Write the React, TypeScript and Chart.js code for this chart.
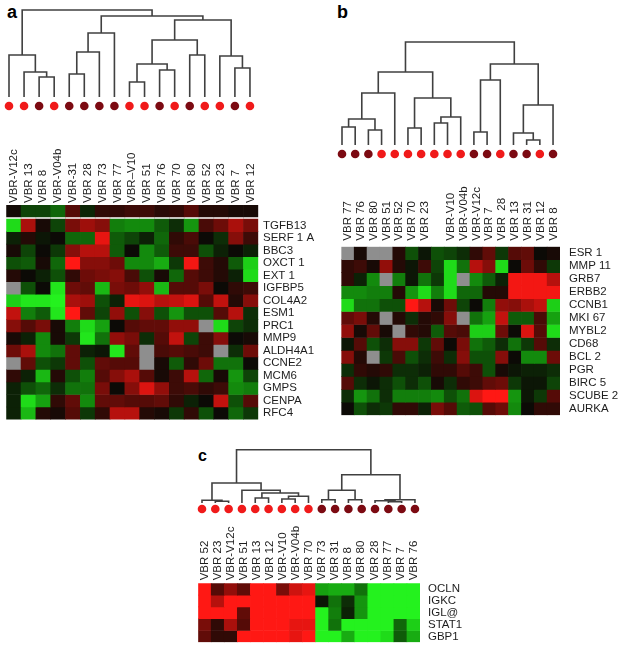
import React, { useEffect, useRef } from 'react';
import { Chart, registerables } from 'chart.js';

Chart.register(...registerables);

const FONT = "Arial, 'Liberation Sans', Helvetica, sans-serif";
const TEXT_COLOR = '#1e1e1e';
const LINE_COLOR = '#404040';
const RED_DOT = '#f01a1a';
const DARK_DOT = '#7c0a12';

// ---------- samples / groups ----------
const redGroup = ['V12c', '13', 'V04b', 'V10', '51', '70', '52', '23', '12'];

// ---------- panel a ----------
const samplesA = ['V12c', '13', '8', 'V04b', '31', '28', '73', '77', 'V10', '51', '76', '70', '80', '52', '23', '7', '12'];
const labelsA = ['VBR-V12c', 'VBR 13', 'VBR 8', 'VBR-V04b', 'VBR-31', 'VBR 28', 'VBR 73', 'VBR 77', 'VBR–V10', 'VBR 51', 'VBR 76', 'VBR 70', 'VBR 80', 'VBR 52', 'VBR 23', 'VBR 7', 'VBR 12'];
const genesA = ['TGFB13', 'SERF 1 A', 'BBC3', 'OXCT 1', 'EXT 1', 'IGFBP5', 'COL4A2', 'ESM1', 'PRC1', 'MMP9', 'ALDH4A1', 'CCNE2', 'MCM6', 'GMPS', 'CENPA', 'RFC4'];
const topBarA = [0.03, -0.25, -0.25, -0.4, 0.3, -0.12, 0.15, 0.15, 0.2, 0.2, 0.12, 0.15, 0.3, 0.1, 0.1, 0.05, 0.05];
const heatA: (number | null)[][] = [
  [-0.9, 0.65, 0.05, -0.25, 0.45, 0.6, 0.5, -0.5, -0.55, -0.55, -0.35, -0.15, -0.6, 0.25, 0.4, 0.65, 0.45],
  [-0.1, 0.1, -0.05, 0, -0.4, -0.4, 0.9, -0.35, -0.25, -0.1, -0.4, 0.15, 0.25, 0, -0.15, 0.5, 0.2],
  [0.05, -0.25, 0, -0.2, 0.5, 0.7, 0.7, -0.35, 0, -0.55, -0.35, 0.2, 0.2, -0.3, -0.1, 0, -0.1],
  [-0.3, -0.35, 0.05, -0.4, 1.0, 0.5, 0.5, 0.4, -0.55, -0.55, -0.7, -0.2, 0.95, 0.2, 0.1, -0.35, -0.85],
  [0.1, 0, -0.1, -0.3, 0.15, 0.4, 0.45, 0.5, 0.25, -0.3, 0.05, -0.4, 0.3, 0.2, 0.1, -0.1, -0.9],
  [null, -0.3, 0, -0.95, 0.4, 0.35, -0.75, 0.45, 0.4, 0.55, -0.75, 0.3, 0.3, 0.45, 0, 0.15, 0.2],
  [-0.85, -0.95, -0.95, -1.0, 0.65, 0.6, -0.3, -0.1, 0.9, 0.85, 0.7, 0.75, 0.85, 0.3, 0.75, 0.1, 0.5],
  [0.75, -0.5, -0.35, -0.95, 1.0, 0.35, -0.25, 0.55, -0.3, 0.5, -0.3, -0.6, -0.3, -0.3, 0.3, 0.7, -0.15],
  [0.5, 0.3, 0.45, 0.05, -0.5, -0.9, -0.65, 0, 0.3, 0.35, 0.35, 0.55, 0.55, null, -0.9, -0.25, -0.15],
  [0.05, -0.1, -0.55, 0.05, -0.2, -0.95, -0.45, 0.55, 0.45, -0.15, 0.3, 0.75, -0.25, 0.2, 0.5, 0, 0.05],
  [0.4, 0.65, -0.55, -0.45, 0.35, -0.1, -0.05, -0.95, 0.35, null, 0.25, 0.3, 0.25, 0.2, null, -0.15, 0.4],
  [null, 0.35, -0.3, -0.2, 0.35, -0.3, 0.35, 0.3, 0.3, null, 0.05, -0.35, 0.15, 0.4, -0.45, -0.45, 0],
  [0.15, -0.1, -0.75, 0.1, -0.3, -0.5, 0.3, 0.5, 0.65, 0.3, 0.05, 0.2, 0.7, -0.4, 0.05, -0.6, -0.25],
  [-0.1, -0.3, -0.4, -0.15, -0.45, -0.45, 0.45, 0, 0.5, 0.85, 0.55, 0.2, 0.25, 0.15, 0.2, -0.55, -0.5],
  [-0.1, -0.9, -0.65, 0.15, 0.35, -0.55, 0.35, 0.35, 0.3, 0.3, 0.35, 0.15, -0.1, 0, 0.75, -0.3, 0.3],
  [-0.1, -0.75, 0.1, 0.05, 0.3, -0.2, 0.15, 0.7, 0.7, 0.1, 0.05, -0.2, 0.15, -0.3, 0, -0.4, -0.2],
];
// dendrogram a: merges (hclust style) and merge heights
const mergesA: [number, number][] = [
  [-3, -4], [-2, 1], [-1, 2], [-5, -6], [4, -7], [5, -8], [-9, -10], [-11, -12],
  [7, 8], [-13, -14], [9, 10], [-16, -17], [-15, 12], [11, 13], [6, 14], [3, 15],
];
const heightsA = [20, 25, 42, 23, 45, 64, 15, 27, 33, 42, 57, 29, 41, 77, 81, 87];

// ---------- panel b ----------
const samplesB = ['77', '76', '80', '51', '52', '70', '23', 'V10', 'V04b', 'V12c', '7', '28', '13', '31', '73', '12', '8'];
const labelsB = ['VBR 77', 'VBR 76', 'VBR 80', 'VBR 51', 'VBR 52', 'VBR 70', 'VBR 23', '', 'VBR-V10', 'VBR-V04b', 'VBR-V12c', 'VBR 7', 'VBR  28', 'VBR 13', 'VBR 31', 'VBR 12', 'VBR 8'];
const genesB = ['ESR 1', 'MMP 11', 'GRB7', 'ERBB2', 'CCNB1', 'MKI 67', 'MYBL2', 'CD68', 'BCL 2', 'PGR', 'BIRC 5', 'SCUBE 2', 'AURKA'];
const heatB: (number | null)[][] = [
  [null, 0.05, null, null, 0.1, -0.3, -0.05, -0.3, -0.25, -0.15, 0.15, 0.35, -0.2, 0.3, 0.35, 0, 0.05],
  [0.15, 0.2, 0.05, 0.55, 0.1, -0.05, 0.2, -0.25, -0.9, -0.45, 0.7, 0.5, -0.9, 0, 0.4, 0.15, -0.2],
  [0.15, -0.1, -0.55, null, -0.5, -0.05, -0.45, -0.2, -0.9, null, -0.55, -0.35, -0.1, 0.95, 0.95, 0.95, 0.7],
  [-0.55, -0.55, -0.5, -0.5, 0.1, -0.6, -0.9, -0.5, -0.9, -0.4, -0.4, 0.1, 0.1, 0.95, 0.95, 0.95, 0.95],
  [-0.9, -0.45, -0.45, -0.3, -0.3, 1.0, 0.7, 0.05, 0.4, -0.25, 0, -0.5, 0.55, 0.5, 0.65, 0.75, -0.85],
  [0.35, 0.45, 0.1, null, 0.1, -0.15, 0.1, 0.15, 0.5, null, -0.45, -0.65, 0.75, -0.35, -0.35, 0.25, -0.65],
  [0.55, 0.05, 0.35, 0.05, null, 0.15, 0.1, -0.35, 0.3, 0.25, -0.85, -0.85, 0.4, 0, 0.85, 0.3, -0.9],
  [-0.05, 0.3, -0.3, -0.15, 0.5, 0.5, -0.2, 0.35, 0, 0.45, -0.45, -0.35, -0.15, -0.45, -0.2, 0.3, -0.15],
  [0.5, 0.1, null, -0.2, 0.25, -0.3, -0.15, 0.2, -0.15, 0.5, -0.3, -0.3, 0.5, 0, -0.55, -0.55, 0.4],
  [-0.15, 0.15, 0.1, 0.15, -0.15, -0.15, -0.1, 0.15, 0.15, 0.3, 0.2, -0.3, 0.05, -0.05, -0.1, -0.1, -0.15],
  [0.3, -0.15, -0.05, -0.15, -0.3, -0.15, -0.3, 0.05, -0.15, 0.15, 0.2, 0.35, 0.4, -0.2, -0.05, -0.05, -0.25],
  [-0.15, -0.6, -0.45, -0.15, -0.5, -0.5, -0.5, -0.55, -0.3, -0.45, 0.85, 1.0, 1.0, -0.6, -0.05, -0.2, 0.3],
  [0, -0.3, -0.15, -0.2, 0.15, 0.15, -0.1, 0.45, 0.3, -0.35, -0.3, 0.3, 0.4, -0.55, 0, 0.15, 0.15],
];
const mergesB: [number, number][] = [
  [-1, -2], [-3, -4], [1, 2], [3, -5], [-6, -7], [-8, -9], [6, -10], [5, 7],
  [4, 8], [-11, -12], [10, -13], [-15, -16], [-14, 12], [13, -17], [11, 14], [9, 15],
];
const heightsB = [18, 15, 26, 52, 17, 22, 28, 47, 73, 13, 65, 5, 12, 40, 81, 103];

// ---------- panel c ----------
const samplesC = ['52', '23', 'V12c', '51', '13', '12', 'V10', 'V04b', '70', '73', '31', '8', '80', '28', '77', '7', '76'];
const labelsC = ['VBR 52', 'VBR 23', 'VBR-V12c', 'VBR 51', 'VBR 13', 'VBR 12', 'VBR-V10', 'VBR-V04b', 'VBR 70', 'VBR 73', 'VBR 31', 'VBR 8', 'VBR 80', 'VBR 28', 'VBR 77', 'VBR 7', 'VBR 76'];
const genesC = ['OCLN', 'IGKC', 'IGL@', 'STAT1', 'GBP1'];
const heatC: (number | null)[][] = [
  [1, 0.3, 0.55, 0.35, 1, 1, 0.45, 0.8, 0.9, -0.65, -0.7, -0.7, -0.45, -1, -1, -1, -1],
  [1, 0.7, 1, 1, 1, 1, 1, 1, 1, -0.05, -0.45, -0.15, -0.6, -1, -1, -1, -1],
  [1, 1, 1, 0.35, 1, 1, 1, 1, 1, -1, -0.5, -0.1, -0.6, -1, -1, -1, -1],
  [0.45, 0.15, 0.65, 0.3, 1, 1, 1, 0.9, 0.9, -1, -0.45, -1, -1, -1, -1, -0.4, -0.85],
  [0.35, 0.15, 0.15, 1, 1, 1, 1, 0.9, 1, -1, -1, -0.7, -1, -1, -0.9, -0.35, -0.7],
];
const mergesC: [number, number][] = [
  [-2, -3], [-1, 1], [-5, -6], [-7, -8], [4, -9], [3, 5], [-4, 6], [2, 7],
  [-10, -11], [-12, -13], [9, 10], [-15, -16], [-14, 12], [13, -17], [11, 14], [8, 15],
];
const heightsC = [1.7, 2.7, 5, 4, 6.7, 10, 12.7, 20, 3.3, 3.3, 12.7, 1.3, 2.3, 3.3, 28.3, 53.3];

// ---------- helpers ----------
const LABEL_SIZE = 11.5;

function cellColor(v: number | null): string {
  if (v === null || v === undefined) return '#8e8e8e';
  if (v >= 0) {
    const r = Math.round(12 + 243 * v);
    const g = Math.round(10 + 14 * v * v);
    const b = Math.round(6 + 14 * v * v);
    return `rgb(${r},${g},${b})`;
  }
  const a = -v;
  const r = Math.round(12 + 24 * a * a);
  const g = Math.round(10 + 232 * a);
  const b = Math.round(6 + 24 * a * a);
  return `rgb(${r},${g},${b})`;
}

type HeatProps = {
  left: number; top: number; width: number; height: number;
  padLeft: number; padBottom: number; xAxisH: number; yAxisW: number;
  xPad: number; yPad: number;
  xLabels: string[]; rowLabels: string[]; rows: (number | null)[][];
  extraRow?: number[]; extraRange?: [number, number]; yMin: number;
};

function Heatmap(p: HeatProps) {
  const ref = useRef<HTMLCanvasElement>(null);
  useEffect(() => {
    const base = { borderWidth: 0, barPercentage: 1, categoryPercentage: 1, grouped: false };
    const datasets: any[] = p.rows.map((row, i) => ({
      ...base,
      data: row.map(() => [i, i + 1]),
      backgroundColor: row.map(cellColor),
    }));
    if (p.extraRow && p.extraRange) {
      const [a, b] = p.extraRange;
      datasets.push({ ...base, data: p.extraRow.map(() => [a, b]), backgroundColor: p.extraRow.map(cellColor) });
    }
    const font = { family: FONT, size: LABEL_SIZE, lineHeight: 1 };
    const chart = new Chart(ref.current as HTMLCanvasElement, {
      type: 'bar',
      data: { labels: p.xLabels, datasets },
      options: {
        responsive: false,
        animation: false,
        events: [],
        devicePixelRatio: 1,
        layout: { autoPadding: false, padding: { left: p.padLeft, right: 0, top: 0, bottom: p.padBottom } } as any,
        plugins: { legend: { display: false }, tooltip: { enabled: false }, title: { display: false } },
        scales: {
          x: {
            type: 'category',
            position: 'top',
            offset: true,
            grid: { display: false, drawTicks: false, offset: true },
            border: { display: false },
            ticks: {
              autoSkip: false, minRotation: 90, maxRotation: 90, padding: p.xPad,
              labelOffset: LABEL_SIZE, color: TEXT_COLOR, font,
            },
            afterFit: (s: any) => { s.height = p.xAxisH; },
          },
          y: {
            type: 'linear',
            position: 'right',
            reverse: true,
            min: p.yMin,
            max: p.rows.length,
            grid: { display: false, drawTicks: false },
            border: { display: false },
            afterBuildTicks: (s: any) => { s.ticks = p.rowLabels.map((_, i) => ({ value: i + 0.5 })); },
            ticks: {
              autoSkip: false,
              padding: p.yPad,
              color: TEXT_COLOR,
              font,
              callback: (_v: any, idx: number) => p.rowLabels[idx] ?? '',
            },
            afterFit: (s: any) => { s.width = p.yAxisW; },
          },
        },
      } as any,
    });
    return () => chart.destroy();
  }, []);
  return (
    <canvas
      ref={ref}
      width={p.width}
      height={p.height}
      style={{ position: 'absolute', left: p.left, top: p.top, width: p.width, height: p.height }}
    />
  );
}

type DendroProps = {
  merges: [number, number][]; heights: number[]; samples: string[];
  left: number; top: number; width: number; height: number;
  x0: number; dx: number; yb: number; dotDrop: number;
};

function Dendrogram(p: DendroProps) {
  const ref = useRef<HTMLCanvasElement>(null);
  useEffect(() => {
    const mx: number[] = [];
    const pos = (r: number) => (r < 0 ? -r - 1 : mx[r - 1]);
    const ht = (r: number) => (r < 0 ? 0 : p.heights[r - 1]);
    const datasets: any[] = p.merges.map(([a, b], k) => {
      const xa = pos(a);
      const xb = pos(b);
      const H = p.heights[k];
      mx[k] = (xa + xb) / 2;
      return {
        type: 'line',
        data: [{ x: xa, y: ht(a) }, { x: xa, y: H }, { x: xb, y: H }, { x: xb, y: ht(b) }],
        borderColor: LINE_COLOR,
        borderWidth: 1.6,
        pointRadius: 0,
        fill: false,
        tension: 0,
        clip: false,
      };
    });
    datasets.push({
      type: 'scatter',
      data: p.samples.map((_, i) => ({ x: i, y: -p.dotDrop })),
      pointRadius: 4.3,
      pointBorderWidth: 0,
      pointBackgroundColor: p.samples.map((s) => (redGroup.includes(s) ? RED_DOT : DARK_DOT)),
      clip: false,
    });
    const xmin = -(p.x0 - p.left) / p.dx;
    const xmax = (p.left + p.width - p.x0) / p.dx;
    const ymax = p.yb - p.top;
    const ymin = p.yb - p.top - p.height;
    const chart = new Chart(ref.current as HTMLCanvasElement, {
      type: 'line',
      data: { datasets },
      options: {
        responsive: false,
        animation: false,
        events: [],
        devicePixelRatio: 1,
        layout: { autoPadding: false, padding: 0 } as any,
        plugins: { legend: { display: false }, tooltip: { enabled: false } },
        scales: {
          x: { type: 'linear', display: false, min: xmin, max: xmax },
          y: { type: 'linear', display: false, min: ymin, max: ymax },
        },
      } as any,
    });
    return () => chart.destroy();
  }, []);
  return (
    <canvas
      ref={ref}
      width={p.width}
      height={p.height}
      style={{ position: 'absolute', left: p.left, top: p.top, width: p.width, height: p.height }}
    />
  );
}

const letterStyle = (left: number, top: number, size: number): React.CSSProperties => ({
  position: 'absolute', left, top, fontFamily: FONT, fontWeight: 'bold', fontSize: size, lineHeight: `${size}px`, color: '#000',
});

export default function App() {
  return (
    <div style={{ position: 'absolute', left: 0, top: 0, width: 624, height: 656, background: '#fff', overflow: 'hidden' }}>
      <div style={letterStyle(7, 3, 18)}>a</div>
      <div style={letterStyle(337, 3, 18)}>b</div>
      <div style={letterStyle(198, 447.5, 16)}>c</div>

      <Dendrogram merges={mergesA} heights={heightsA} samples={samplesA}
        left={0} top={0} width={265} height={115} x0={9} dx={15.06} yb={97} dotDrop={9} />
      <Heatmap left={0} top={140} width={340} height={290} padLeft={5} padBottom={7.3}
        xAxisH={65} yAxisW={81.7} xPad={2} yPad={4.7}
        xLabels={labelsA} rowLabels={genesA} rows={heatA}
        extraRow={topBarA} extraRange={[-1.125, -0.18]} yMin={-1.125} />

      <Dendrogram merges={mergesB} heights={heightsB} samples={samplesB}
        left={330} top={20} width={240} height={145} x0={342} dx={13.19} yb={145} dotDrop={9} />
      <Heatmap left={330} top={180} width={294} height={250} padLeft={9.3} padBottom={5}
        xAxisH={66.7} yAxisW={64} xPad={6} yPad={9}
        xLabels={labelsB} rowLabels={genesB} rows={heatB} yMin={0} />

      <Dendrogram merges={mergesC} heights={heightsC} samples={samplesC}
        left={190} top={440} width={240} height={80} x0={202} dx={13.31} yb={503} dotDrop={6} />
      <Heatmap left={190} top={515} width={280} height={141} padLeft={6.7} padBottom={6}
        xAxisH={68.3} yAxisW={50} xPad={3} yPad={8}
        xLabels={labelsC} rowLabels={genesC} rows={heatC} yMin={0} />
    </div>
  );
}
